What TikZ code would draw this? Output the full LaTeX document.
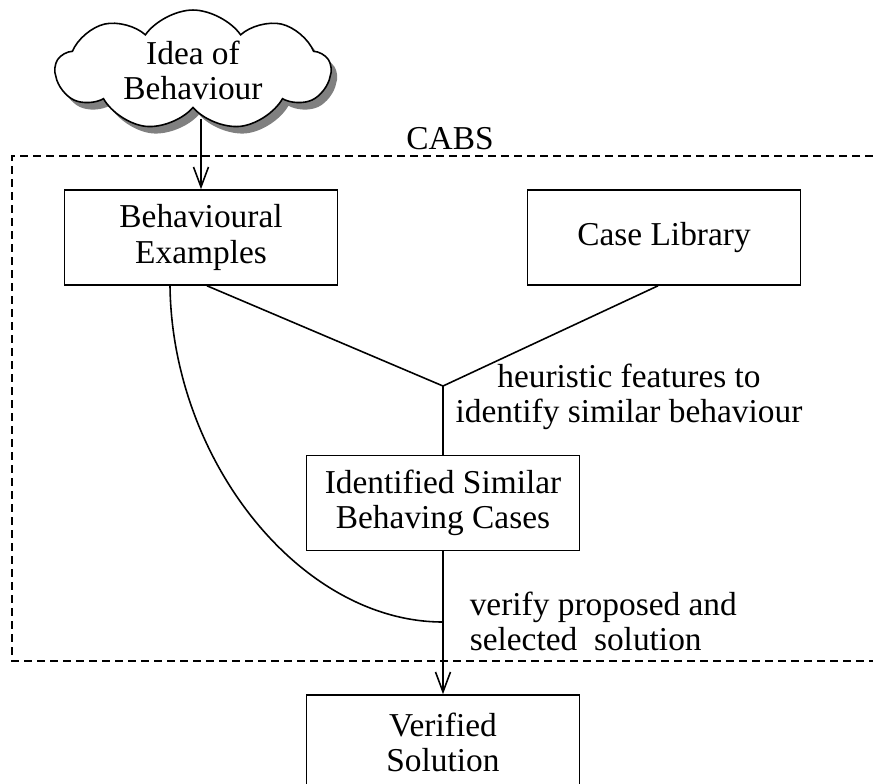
\documentclass[tikz,border=0pt]{standalone}
\usepackage{fontspec}
\setmainfont{Liberation Serif}
\usepackage{tikz}
\usetikzlibrary{arrows.meta, positioning, shapes.symbols, shadows}

\begin{document}
\begin{tikzpicture}[line width=0.9pt, font=\fontsize{19pt}{20pt}\selectfont,
	box/.style={draw, rectangle, align=center, minimum width=5.46cm, minimum height=1.9cm, inner sep=0},
	txt/.style={inner sep=0},
	arr/.style={-{Straight Barb[length=0.4cm, width=0.3cm]}},
	frame/.style={dash pattern=on 0.16cm off 0.1cm}]
		% picture size
		\useasboundingbox (0,0) rectangle (17.46,-15.66);
		\clip (0,0) rectangle (17.46,-15.66);
		
		% nodes
		\node[cloud, draw, fill=white, cloud puffs=9, cloud puff arc=110, aspect=2.8, minimum width=5.5cm, minimum height=1.8cm, align=center, inner sep=0,
			drop shadow={shadow xshift=0.12cm, shadow yshift=-0.14cm, fill=black!50, opacity=1}] (idea) at (3.86,-1.4) 
		{Idea of\\Behaviour};
		
		\node[box] (examples) at (4.02,-4.75) {Behavioural\\Examples};
		\node[box, right of = examples, node distance = 9.26cm] (library) {Case Library};
		\node[box] (similar) at (8.86,-10.06) {Identified Similar\\Behaving Cases};
		\node[box, below of = similar, node distance = 4.79cm] (verified) {Verified\\Solution};
		
		\node[txt, anchor=base] (cabs) at (9.0,-2.98) {CABS};
		\node[txt, align=center] (heuristic) at (12.58,-7.94) 
		{heuristic features to\\identify similar behaviour};
		\node[txt, align=left, anchor=north west] (verify) at (9.38,-11.82) 
		{verify proposed and\\selected\ \ solution};
		
		\coordinate (join) at (8.86,-7.72);
		\coordinate (meet) at (8.86,-12.44);
		
		% CABS frame
		\draw[frame] (17.46,-3.12) -- (0.24,-3.12) -- (0.24,-13.22) -- (17.46,-13.22);
		
		% connectors
		\draw[arr] (idea.south -| examples.north) ++(0,-0.2) -- (examples.north);
		\draw ([xshift=0.12cm]examples.south) -- (join) -- ([xshift=-0.12cm]library.south);
		\draw (join) -- (similar);
		\draw[arr] (similar) -- (verified);
		\draw ([xshift=-0.62cm]examples.south) .. controls (3.44,-9.2) and (6.0,-12.44) .. (meet);
		\end{tikzpicture}
\end{document}
